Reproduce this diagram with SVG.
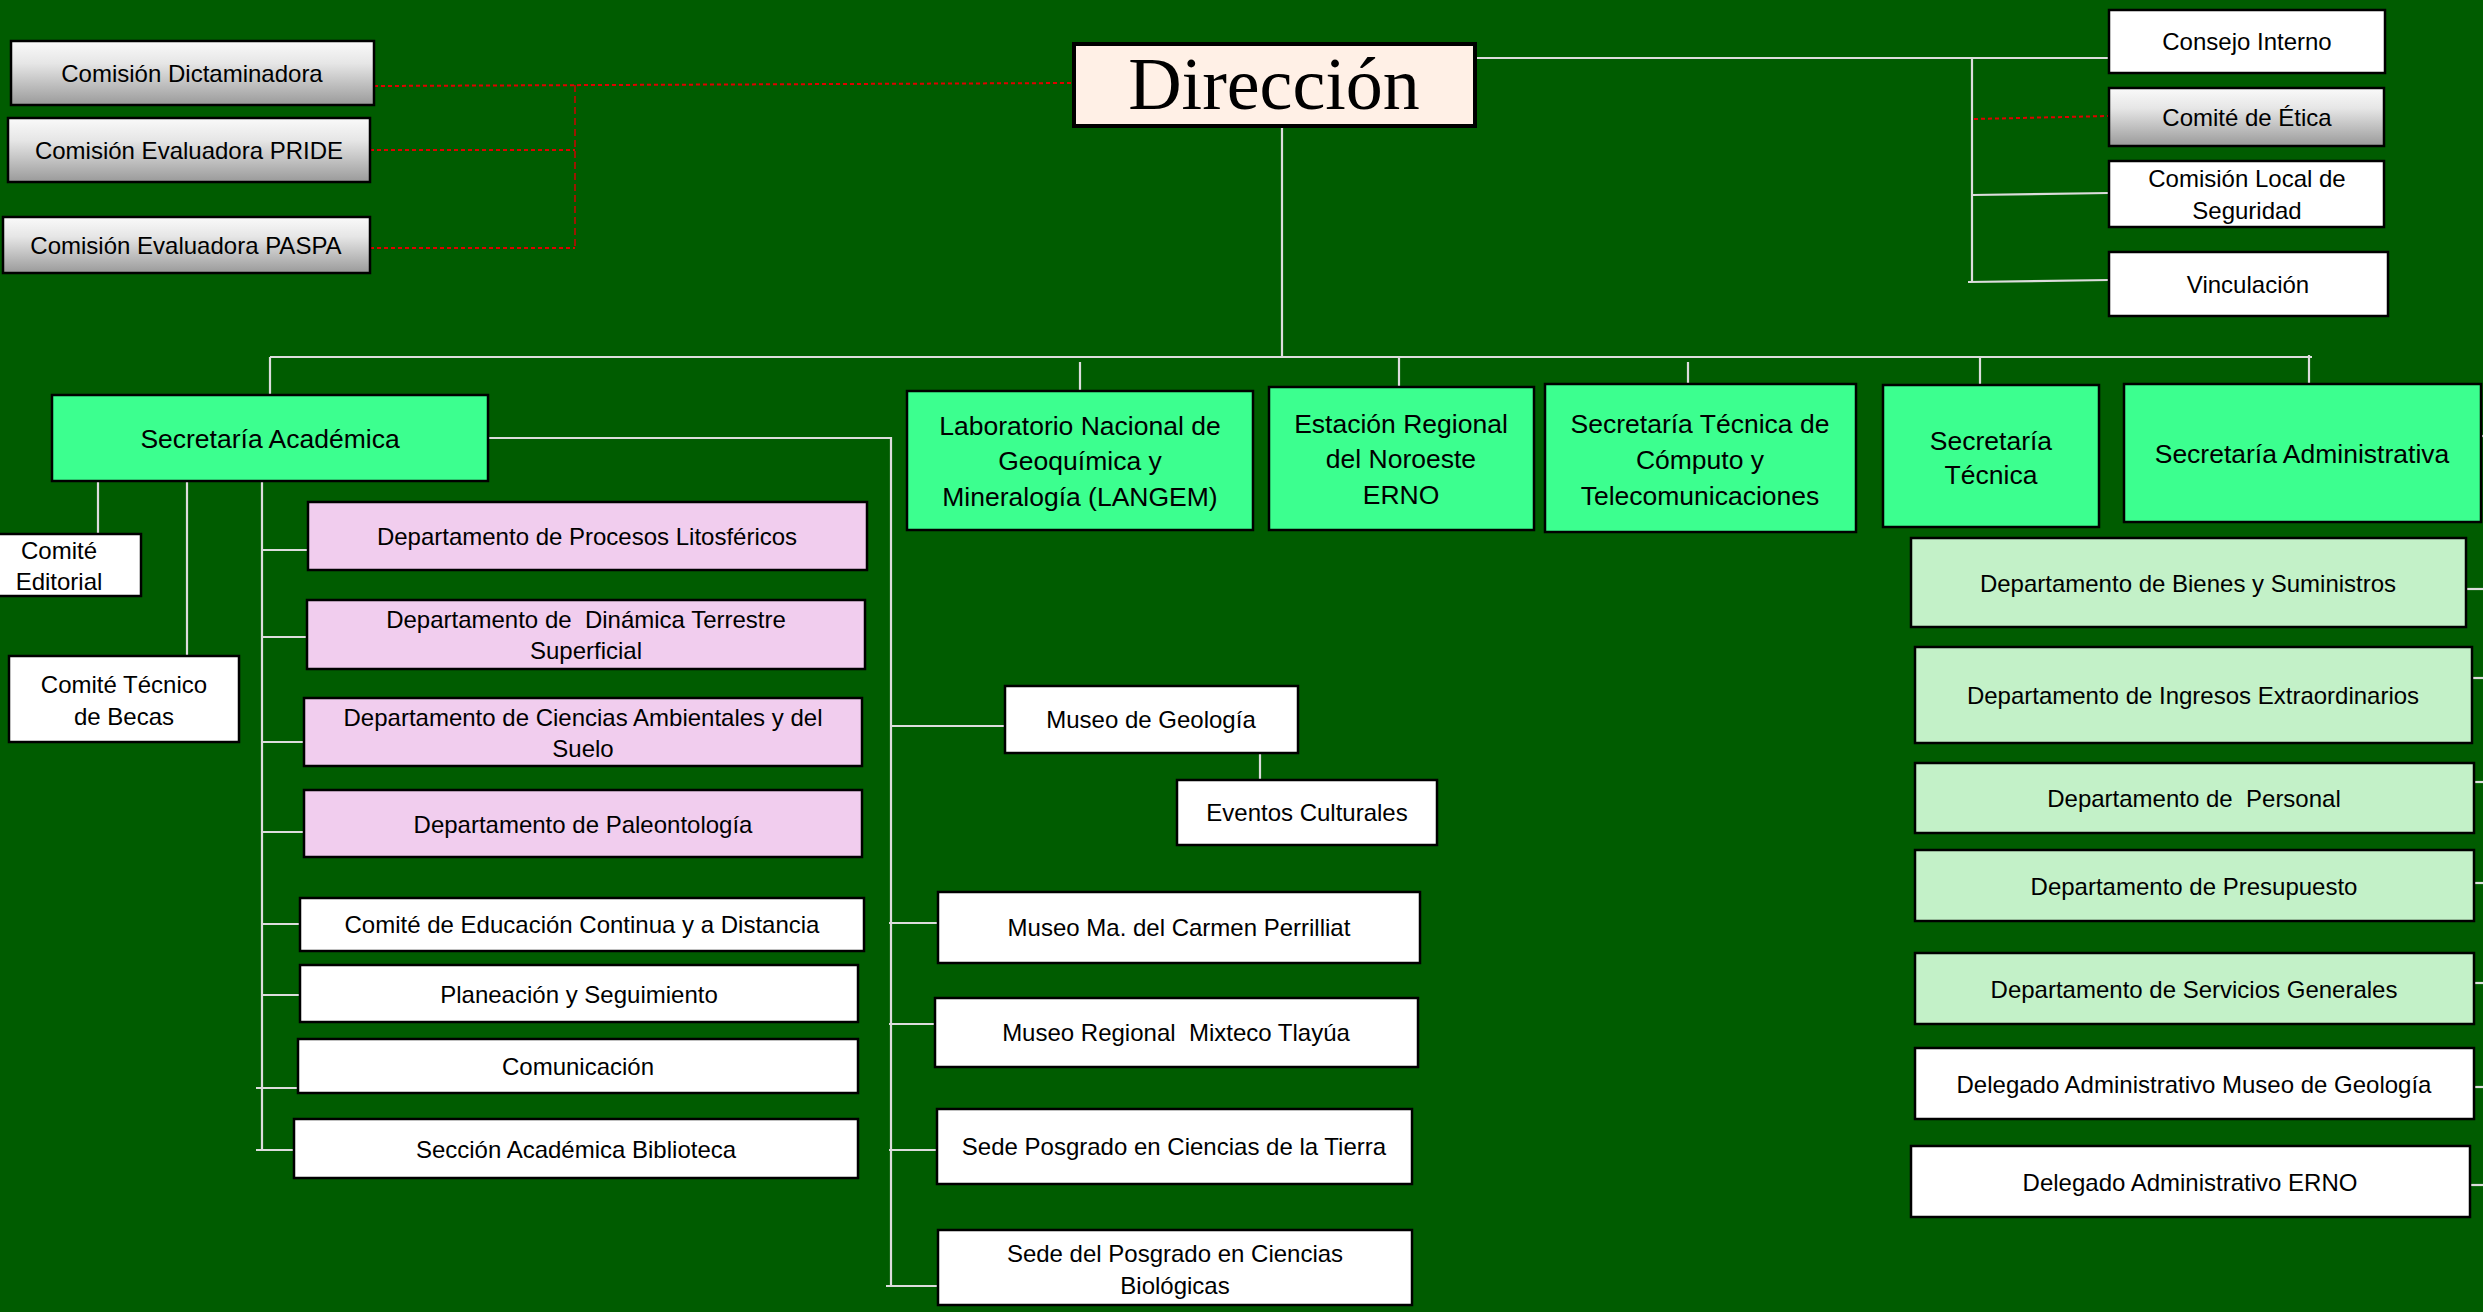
<svg xmlns="http://www.w3.org/2000/svg" width="2483" height="1312" viewBox="0 0 2483 1312">
<defs>
<linearGradient id="gg" x1="0" y1="0" x2="0" y2="1">
<stop offset="0" stop-color="#FAFAFA"/>
<stop offset="0.35" stop-color="#E6E6E6"/>
<stop offset="1" stop-color="#9A9A9A"/>
</linearGradient>
<style>
.box{stroke:#000;stroke-width:2.5}
.white{fill:#FFFFFF}
.mint{fill:#3CFF8F}
.pink{fill:#F1CDEE}
.lg{fill:#C3F1C8}
.gray{fill:url(#gg)}
.dir{fill:#FFF0E6;stroke:#000;stroke-width:4}
text{font-family:"Liberation Sans",Arial,sans-serif;font-size:24px;fill:#000;text-anchor:middle;white-space:pre}
.big{font-size:26.5px}
.serif{font-family:"Liberation Serif","Times New Roman",serif;font-size:74px}
.conn{stroke:#DCDCDC;stroke-width:2.2;fill:none}
.red{stroke:#E00000;stroke-width:2;stroke-dasharray:4 3;fill:none}
.red2{stroke:#D00000;stroke-width:1.5;stroke-dasharray:7 4;fill:none}
</style>
</defs>
<rect x="0" y="0" width="2483" height="1312" fill="#005C00"/>

<g id="connectors">
<path class="red" d="M374,86 L1073,83"/>
<path class="red2" d="M575,85 L575,248"/>
<path class="red" d="M370,150 L575,150"/>
<path class="red" d="M370,248 L575,248"/>
<path class="conn" d="M1475,58 L2109,58"/>
<path class="conn" d="M1972,58 L1972,282"/>
<path class="red" d="M1974,119 L2109,116"/>
<path class="conn" d="M1972,195 L2109,193"/>
<path class="conn" d="M1968,282 L2109,280"/>
<path class="conn" d="M1282,126 L1282,357"/>
<path class="conn" d="M270,357 L2312,357"/>
<path class="conn" d="M270,357 L270,395"/>
<path class="conn" d="M1080,362 L1080,391"/>
<path class="conn" d="M1399,357 L1399,387"/>
<path class="conn" d="M1688,362 L1688,384"/>
<path class="conn" d="M1980,357 L1980,385"/>
<path class="conn" d="M2309,355 L2309,384"/>
<path class="conn" d="M488,438 L891,438 L891,1286"/>
<path class="conn" d="M891,726 L1005,726"/>
<path class="conn" d="M1260,753 L1260,780"/>
<path class="conn" d="M889,923 L938,923"/>
<path class="conn" d="M889,1024 L935,1024"/>
<path class="conn" d="M889,1150 L937,1150"/>
<path class="conn" d="M886,1286 L938,1286"/>
<path class="conn" d="M98,481 L98,534"/>
<path class="conn" d="M187,478 L187,656"/>
<path class="conn" d="M262,481 L262,1150"/>
<path class="conn" d="M262,550 L308,550"/>
<path class="conn" d="M262,637 L307,637"/>
<path class="conn" d="M262,742 L304,742"/>
<path class="conn" d="M262,832 L304,832"/>
<path class="conn" d="M262,924 L300,924"/>
<path class="conn" d="M262,995 L300,995"/>
<path class="conn" d="M256,1088 L298,1088"/>
<path class="conn" d="M256,1150 L294,1150"/>
<path class="conn" d="M2466,436 L2483,436"/>
<path class="conn" d="M2466,589 L2483,589"/>
<path class="conn" d="M2472,678 L2483,678"/>
<path class="conn" d="M2474,782 L2483,782"/>
<path class="conn" d="M2474,883 L2483,883"/>
<path class="conn" d="M2474,983 L2483,983"/>
<path class="conn" d="M2474,1087 L2483,1087"/>
<path class="conn" d="M2470,1185 L2483,1185"/>
</g>

<g id="n-direccion"><rect class="dir" x="1074" y="44" width="401" height="82"/><text class="serif" x="1274" y="109">Dirección</text></g>

<g id="n-dictaminadora"><rect class="box gray" x="11" y="41" width="363" height="64"/><text x="192" y="82">Comisión Dictaminadora</text></g>
<g id="n-pride"><rect class="box gray" x="8" y="118" width="362" height="64"/><text x="189" y="159">Comisión Evaluadora PRIDE</text></g>
<g id="n-paspa"><rect class="box gray" x="3" y="217" width="367" height="56"/><text x="186" y="254">Comisión Evaluadora PASPA</text></g>

<g id="n-consejo"><rect class="box white" x="2109" y="10" width="276" height="63"/><text x="2247" y="50">Consejo Interno</text></g>
<g id="n-etica"><rect class="box gray" x="2109" y="88" width="275" height="58"/><text x="2247" y="126">Comité de Ética</text></g>
<g id="n-seguridad"><rect class="box white" x="2109" y="161" width="275" height="66"/><text x="2247" y="187">Comisión Local de</text><text x="2247" y="219">Seguridad</text></g>
<g id="n-vinculacion"><rect class="box white" x="2109" y="252" width="279" height="64"/><text x="2248" y="293">Vinculación</text></g>

<g id="n-sec-academica"><rect class="box mint" x="52" y="395" width="436" height="86"/><text class="big" x="270" y="448">Secretaría Académica</text></g>
<g id="n-langem"><rect class="box mint" x="907" y="391" width="346" height="139"/><text class="big" x="1080" y="435">Laboratorio Nacional de</text><text class="big" x="1080" y="470">Geoquímica y</text><text class="big" x="1080" y="506">Mineralogía (LANGEM)</text></g>
<g id="n-erno"><rect class="box mint" x="1269" y="387" width="265" height="143"/><text class="big" x="1401" y="433">Estación Regional</text><text class="big" x="1401" y="468">del Noroeste</text><text class="big" x="1401" y="504">ERNO</text></g>
<g id="n-computo"><rect class="box mint" x="1545" y="384" width="311" height="148"/><text class="big" x="1700" y="433">Secretaría Técnica de</text><text class="big" x="1700" y="469">Cómputo y</text><text class="big" x="1700" y="505">Telecomunicaciones</text></g>
<g id="n-sec-tecnica"><rect class="box mint" x="1883" y="385" width="216" height="142"/><text class="big" x="1991" y="450">Secretaría</text><text class="big" x="1991" y="484">Técnica</text></g>
<g id="n-sec-admin"><rect class="box mint" x="2124" y="384" width="357" height="138"/><text class="big" x="2302" y="463">Secretaría Administrativa</text></g>

<g id="n-editorial"><rect class="box white" x="-23" y="534" width="164" height="62"/><text x="59" y="559">Comité</text><text x="59" y="590">Editorial</text></g>
<g id="n-becas"><rect class="box white" x="9" y="656" width="230" height="86"/><text x="124" y="693">Comité Técnico</text><text x="124" y="725">de Becas</text></g>

<g id="n-litosfericos"><rect class="box pink" x="308" y="502" width="559" height="68"/><text x="587" y="545">Departamento de Procesos Litosféricos</text></g>
<g id="n-dinamica"><rect class="box pink" x="307" y="600" width="558" height="69"/><text x="586" y="628">Departamento de  Dinámica Terrestre</text><text x="586" y="659">Superficial</text></g>
<g id="n-ambientales"><rect class="box pink" x="304" y="698" width="558" height="68"/><text x="583" y="726">Departamento de Ciencias Ambientales y del</text><text x="583" y="757">Suelo</text></g>
<g id="n-paleontologia"><rect class="box pink" x="304" y="790" width="558" height="67"/><text x="583" y="833">Departamento de Paleontología</text></g>

<g id="n-educacion"><rect class="box white" x="300" y="898" width="564" height="53"/><text x="582" y="933">Comité de Educación Continua y a Distancia</text></g>
<g id="n-planeacion"><rect class="box white" x="300" y="965" width="558" height="57"/><text x="579" y="1003">Planeación y Seguimiento</text></g>
<g id="n-comunicacion"><rect class="box white" x="298" y="1039" width="560" height="54"/><text x="578" y="1075">Comunicación</text></g>
<g id="n-biblioteca"><rect class="box white" x="294" y="1119" width="564" height="59"/><text x="576" y="1158">Sección Académica Biblioteca</text></g>

<g id="n-museo-geologia"><rect class="box white" x="1005" y="686" width="293" height="67"/><text x="1151" y="728">Museo de Geología</text></g>
<g id="n-eventos"><rect class="box white" x="1177" y="780" width="260" height="65"/><text x="1307" y="821">Eventos Culturales</text></g>
<g id="n-perrilliat"><rect class="box white" x="938" y="892" width="482" height="71"/><text x="1179" y="936">Museo Ma. del Carmen Perrilliat</text></g>
<g id="n-tlayua"><rect class="box white" x="935" y="998" width="483" height="69"/><text x="1176" y="1041">Museo Regional  Mixteco Tlayúa</text></g>
<g id="n-posgrado-ct"><rect class="box white" x="937" y="1109" width="475" height="75"/><text x="1174" y="1155">Sede Posgrado en Ciencias de la Tierra</text></g>
<g id="n-posgrado-cb"><rect class="box white" x="938" y="1230" width="474" height="75"/><text x="1175" y="1262">Sede del Posgrado en Ciencias</text><text x="1175" y="1294">Biológicas</text></g>

<g id="n-bienes"><rect class="box lg" x="1911" y="538" width="555" height="89"/><text x="2188" y="592">Departamento de Bienes y Suministros</text></g>
<g id="n-ingresos"><rect class="box lg" x="1915" y="647" width="557" height="96"/><text x="2193" y="704">Departamento de Ingresos Extraordinarios</text></g>
<g id="n-personal"><rect class="box lg" x="1915" y="763" width="559" height="70"/><text x="2194" y="807">Departamento de  Personal</text></g>
<g id="n-presupuesto"><rect class="box lg" x="1915" y="850" width="559" height="71"/><text x="2194" y="895">Departamento de Presupuesto</text></g>
<g id="n-servicios"><rect class="box lg" x="1915" y="953" width="559" height="71"/><text x="2194" y="998">Departamento de Servicios Generales</text></g>
<g id="n-delegado-museo"><rect class="box white" x="1915" y="1048" width="559" height="71"/><text x="2194" y="1093">Delegado Administrativo Museo de Geología</text></g>
<g id="n-delegado-erno"><rect class="box white" x="1911" y="1146" width="559" height="71"/><text x="2190" y="1191">Delegado Administrativo ERNO</text></g>
</svg>
